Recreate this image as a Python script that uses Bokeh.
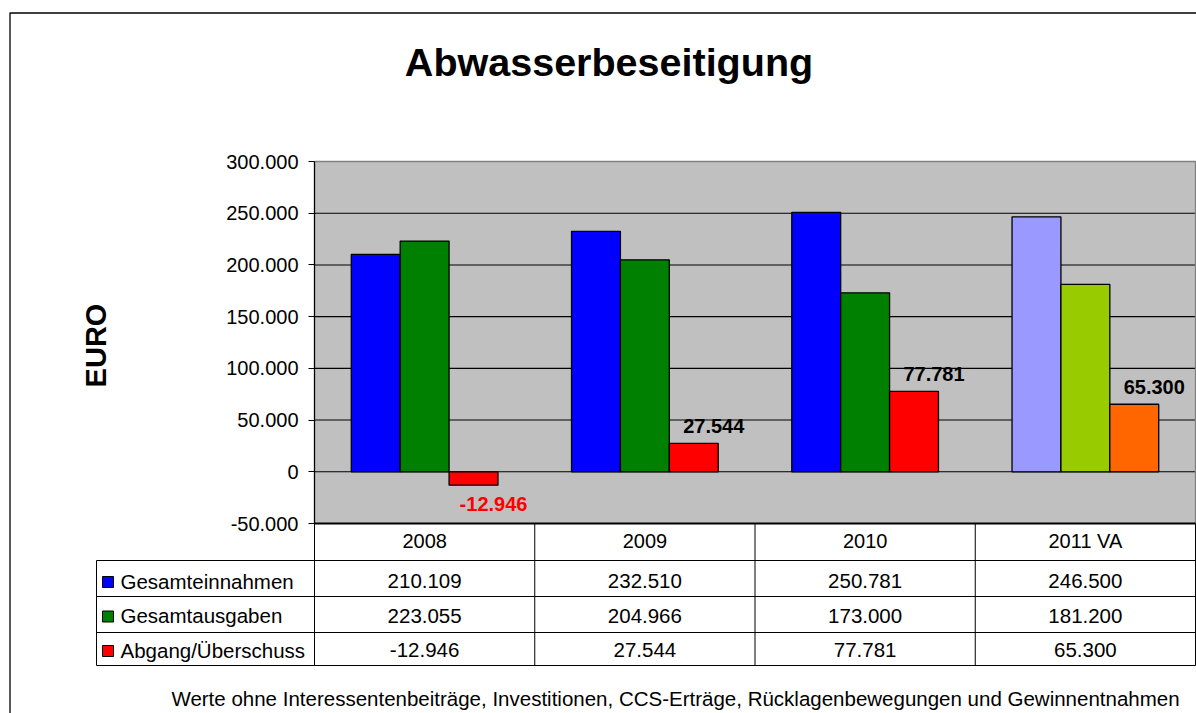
import numpy as np
from bokeh.plotting import figure
from bokeh.models import Range1d, LinearAxis, FixedTicker, CustomJSTickFormatter
from bokeh.core.properties import value
from bokeh.embed import file_html
from bokeh.resources import INLINE

# ---------------- data ----------------
years = ["2008", "2009", "2010", "2011 VA"]
einnahmen = [210109, 232510, 250781, 246500]
ausgaben = [223055, 204966, 173000, 181200]
saldo = [-12946, 27544, 77781, 65300]
series_names = ["Gesamteinnahmen", "Gesamtausgaben", "Abgang/Überschuss"]
colors_ein = ["#0000FF", "#0000FF", "#0000FF", "#9999FF"]
colors_aus = ["#008000", "#008000", "#008000", "#99CC00"]
colors_sal = ["#FF0000", "#FF0000", "#FF0000", "#FF6600"]
legend_colors = ["#0000FF", "#008000", "#FF0000"]
y_ticks = [-50000, 0, 50000, 100000, 150000, 200000, 250000, 300000]
y_min, y_max = -50000, 300000
title_text = "Abwasserbeseitigung"
y_label = "EURO"
footnote = ("Werte ohne Interessentenbeiträge, Investitionen, CCS-Erträge, "
            "Rücklagenbewegungen und Gewinnentnahmen")

# ---------------- layout (canvas pixels) ----------------
W, H = 1196, 713
PL, PR, PT, PB = 314, 1195, 161, 523          # plot area
n = len(years)
CATW = (PR - PL) / n
YPP = (y_max - y_min) / (PB - PT)
FONT = "Liberation Sans"


def FX(px):
    return (px - PL) / CATW


def FY(py):
    return y_max - (py - PT) * YPP


def fmt(v):
    return f"{v:,}".replace(",", ".")


p = figure(width=W, height=H, output_backend="svg", toolbar_location=None,
           x_range=Range1d(FX(0), FX(W)), y_range=Range1d(FY(H), FY(0)),
           x_axis_location=None, y_axis_location=None,
           min_border=0, min_border_left=0, min_border_right=0,
           min_border_top=0, min_border_bottom=0)
p.outline_line_color = None
p.background_fill_color = "white"
p.border_fill_color = "white"
p.xgrid.visible = False
p.ygrid.visible = False

# outer chart border (left + top)
p.line(x=[FX(9.5), FX(9.5), FX(W)], y=[FY(H), FY(12.5), FY(12.5)],
       line_color="black", line_width=1.3)

# plot area
p.quad(left=0, right=n, bottom=y_min, top=y_max, fill_color="#C0C0C0", line_color=None)
inner = [t for t in y_ticks if y_min < t < y_max]
p.segment(x0=[0] * len(inner), x1=[n] * len(inner), y0=inner, y1=inner,
          line_color="black", line_width=1.1)
p.line(x=[0, n, n], y=[y_max, y_max, y_min], line_color="#808080", line_width=1.3)

# bars
BW = 0.222
xc = np.arange(n) + 0.5
for off, vals, cols in [(-BW, einnahmen, colors_ein), (0, ausgaben, colors_aus), (BW, saldo, colors_sal)]:
    p.vbar(x=xc + off, top=vals, bottom=0, width=BW, fill_color=cols,
           line_color="black", line_width=1.3)

# data labels for saldo
p.text(x=xc + BW, y=saldo, text=[fmt(v) for v in saldo],
       x_offset=20, y_offset=[19 if v < 0 else -17 for v in saldo],
       text_color=["#FF0000" if v < 0 else "black" for v in saldo],
       text_font=value(FONT), text_font_style="bold", text_font_size="20px",
       text_align="center", text_baseline="middle")

# y axis
yaxis = LinearAxis(fixed_location=0, bounds=(y_min, y_max),
                   ticker=FixedTicker(ticks=y_ticks),
                   formatter=CustomJSTickFormatter(code=r"""
const s = Math.abs(tick).toFixed(0).replace(/\B(?=(\d{3})+(?!\d))/g, ".");
return (tick < 0 ? "-" : "") + s;
"""))
yaxis.major_tick_out = 6
yaxis.major_tick_in = 0
yaxis.minor_tick_line_color = None
yaxis.axis_line_color = "black"
yaxis.axis_line_width = 1.3
yaxis.major_tick_line_color = "black"
yaxis.major_label_standoff = 10
yaxis.major_label_text_font = FONT
yaxis.major_label_text_font_size = "20px"
yaxis.major_label_text_color = "black"
p.add_layout(yaxis, "left")

# bottom of plot area (thick)
p.segment(x0=[0], x1=[n], y0=[y_min], y1=[y_min], line_color="black", line_width=2)

# ---------------- data table ----------------
TBL_L = 96
row_lines = [560, 596, 632, 665]
tbl_bottom = row_lines[-1]
p.segment(x0=list(range(n + 1)), x1=list(range(n + 1)),
          y0=[y_min] * (n + 1), y1=[FY(tbl_bottom)] * (n + 1),
          line_color="black", line_width=1)
p.segment(x0=[FX(TBL_L)] * len(row_lines), x1=[n] * len(row_lines),
          y0=[FY(r) for r in row_lines], y1=[FY(r) for r in row_lines],
          line_color="black", line_width=1)
p.segment(x0=[FX(TBL_L)], x1=[FX(TBL_L)], y0=[FY(row_lines[0])], y1=[FY(tbl_bottom)],
          line_color="black", line_width=1)

# header (category labels)
p.text(x=xc, y=[FY(540.5)] * n, text=years, text_font=value(FONT), text_font_size="20px",
       text_color="black", text_align="center", text_baseline="middle")

centers = [580.5, 615, 649.5]
p.text(x=[FX(120)] * 3, y=[FY(c) for c in centers], text=series_names,
       text_font=value(FONT), text_font_size="20.5px", text_color="black",
       text_align="left", text_baseline="middle")
p.scatter(x=[FX(107.5)] * 3, y=[FY(c + 1) for c in centers], marker="square", size=11,
          fill_color=legend_colors, line_color="black", line_width=1)

for series, c in zip([einnahmen, ausgaben, saldo], centers):
    p.text(x=xc, y=[FY(c)] * n, text=[fmt(v) for v in series],
           text_font=value(FONT), text_font_size="20.5px", text_color="black",
           text_align="center", text_baseline="middle")

# title, axis label, footnote
p.text(x=[FX(608.5)], y=[FY(61.5)], text=[title_text], text_font=value(FONT),
       text_font_style="bold", text_font_size="39.5px", text_color="black",
       text_align="center", text_baseline="middle")
p.text(x=[FX(95.7)], y=[FY(345)], text=[y_label], angle=np.pi / 2, text_font=value(FONT),
       text_font_style="bold", text_font_size="29px", text_color="black",
       text_align="center", text_baseline="middle")
p.text(x=[FX(675)], y=[FY(697.5)], text=[footnote], text_font=value(FONT),
       text_font_size="20.5px", text_color="black",
       text_align="center", text_baseline="middle")

open("out.html", "w").write(file_html(p, INLINE))
